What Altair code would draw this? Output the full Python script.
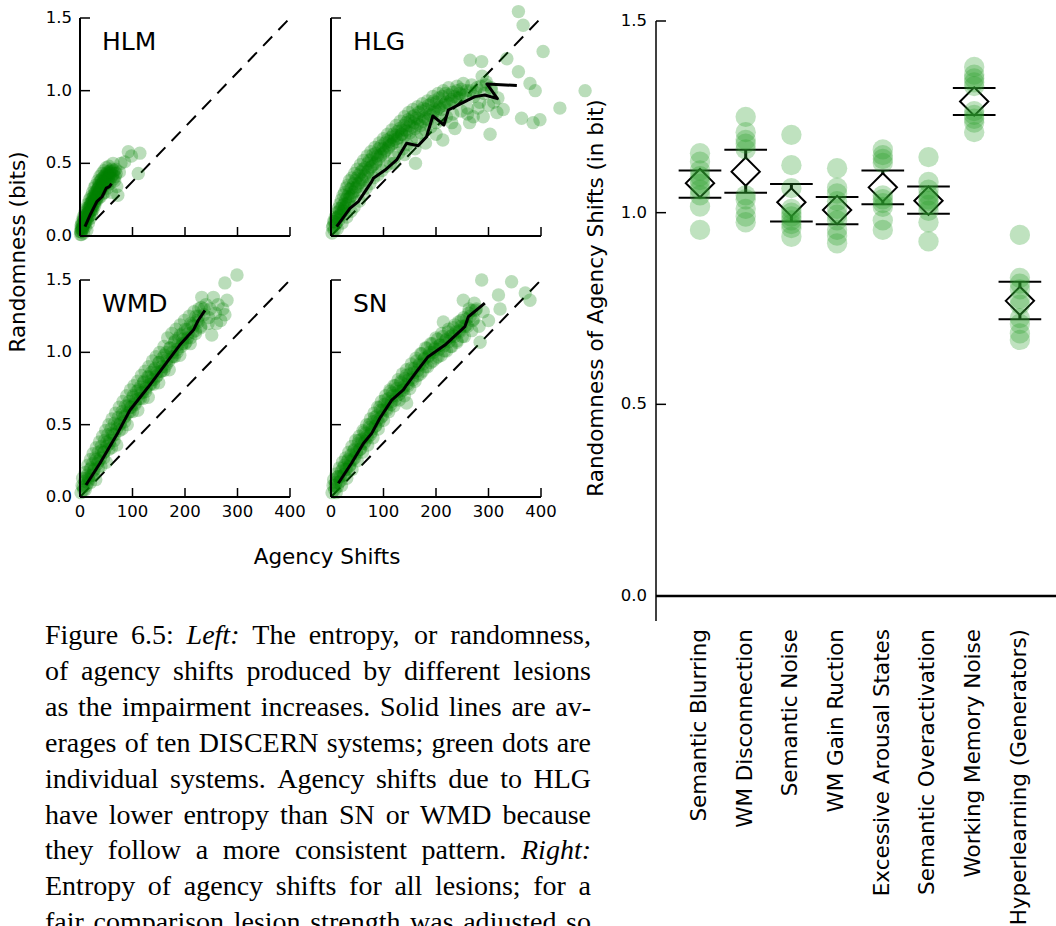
import altair as alt
import pandas as pd

FONT = "DejaVu Sans"
SERIF = "Liberation Serif"
LEFT_GREEN = "#008000"
RIGHT_GREEN = "#2ca02c"

# ---------------- data: left panels ----------------
x_ticks = [0, 100, 200, 300, 400]
x_tick_labels = ["0", "100", "200", "300", "400"]
y_ticks = [0.0, 0.5, 1.0, 1.5]
y_tick_labels = ["0.0", "0.5", "1.0", "1.5"]
diag_x = [0, 400]
diag_y = [0.0, 1.5]

hlm_pts = [(1,0.03),(2,0.07),(3,0.01),(4,0.1),(5,0.05),(6,0.13),(7,0.02),(8,0.09),(9,0.16),(10,0.06),
           (11,0.12),(12,0.19),(13,0.04),(14,0.15),(15,0.22),(16,0.09),(17,0.18),(18,0.25),(19,0.12),(20,0.21),
           (21,0.27),(22,0.15),(23,0.24),(24,0.3),(25,0.18),(26,0.27),(27,0.33),(28,0.21),(29,0.3),(30,0.35),
           (31,0.24),(33,0.32),(34,0.38),(35,0.26),(37,0.34),(38,0.41),(39,0.27),(41,0.36),(42,0.43),(43,0.29),
           (45,0.38),(46,0.45),(47,0.3),(49,0.4),(50,0.47),(52,0.33),(53,0.42),(55,0.48),(57,0.36),(58,0.45),
           (60,0.3),(62,0.42),(63,0.5),(66,0.38),(68,0.46),(70,0.34),(72,0.28),(75,0.44),(78,0.5),(85,0.51),
           (92,0.58),(98,0.55),(111,0.43),(114,0.57)]
hlm_core = [(2,0.05),(3,0.08),(4,0.04),(6,0.09),(7,0.12),(8,0.07),(9,0.13),(11,0.1),(12,0.15),(13,0.18),
            (14,0.11),(16,0.16),(17,0.2),(18,0.14),(19,0.22),(21,0.18),(22,0.23),(23,0.2),(24,0.26),(26,0.22),
            (27,0.25),(28,0.29),(29,0.24),(31,0.28),(32,0.3),(33,0.27),(35,0.33),(36,0.3),(37,0.37),(39,0.32),
            (40,0.35),(41,0.39),(43,0.34),(44,0.4),(46,0.36),(48,0.42),(50,0.38),(51,0.43),(53,0.37),(55,0.41),
            (56,0.44),(59,0.4),(61,0.46),(64,0.43),(67,0.41),
            (1,0.01),(2,0.03),(3,0.05),(5,0.07),(6,0.06),(8,0.11),(10,0.09),(11,0.14),(13,0.12),(15,0.16),
            (16,0.13),(18,0.19),(20,0.17),(21,0.21),(23,0.18),(25,0.24),(27,0.22),(28,0.26),(30,0.28),(32,0.26),
            (34,0.32),(36,0.35),(38,0.31),(40,0.38),(42,0.33),(44,0.37),(47,0.41),(49,0.36),(52,0.44),(54,0.39),
            (57,0.43),(60,0.44),(63,0.39),(65,0.45),(69,0.43)]
hlm_line_x = [9.5, 20, 32, 42, 50, 56, 60]
hlm_line_y = [0.064, 0.15, 0.236, 0.27, 0.33, 0.34, 0.36]

hlg_pts = [(2,0.02),(3,0.06),(5,0.1),(6,0.04),(8,0.13),(9,0.08),(11,0.16),(12,0.05),(14,0.19),(15,0.11),
           (17,0.22),(18,0.14),(20,0.25),(21,0.09),(23,0.28),(24,0.17),(26,0.3),(27,0.2),(29,0.33),(30,0.13),
           (32,0.35),(33,0.23),(35,0.38),(37,0.27),(38,0.17),(40,0.4),(42,0.3),(44,0.2),(45,0.43),(47,0.33),
           (50,0.46),(52,0.36),(54,0.24),(56,0.49),(58,0.39),(60,0.29),(62,0.52),(64,0.42),(67,0.33),(69,0.55),
           (71,0.45),(74,0.36),(76,0.58),(78,0.48),(81,0.4),(84,0.61),(86,0.51),(89,0.42),(92,0.64),(94,0.55),
           (97,0.45),(100,0.67),(102,0.58),(105,0.48),(108,0.7),(110,0.61),(113,0.5),(116,0.73),(118,0.64),(121,0.54),
           (124,0.76),(126,0.67),(129,0.57),(132,0.79),(134,0.7),(137,0.6),(140,0.82),(142,0.73),(145,0.63),(148,0.85),
           (150,0.76),(153,0.66),(156,0.87),(158,0.78),(161,0.5),(163,0.68),(165,0.89),(168,0.8),(171,0.71),(174,0.91),
           (177,0.82),(180,0.73),(184,0.93),(187,0.84),(190,0.75),(194,0.96),(197,0.87),(200,0.78),(204,0.98),(207,0.89),
           (210,0.8),(214,1.0),(217,0.91),(220,0.82),(213,0.66),(224,1.02),(228,0.93),(232,0.84),(236,0.74),(240,1.03),
           (244,0.95),(248,0.86),(252,1.05),(256,0.97),(260,0.88),(264,0.78),(265,1.21),(268,1.04),(272,0.96),(271,0.82),
           (278,1.02),(283,0.92),(287,1.2),(288,1.1),(292,0.98),(296,1.06),(300,0.9),(303,0.7),(306,1.0),(316,0.85),
           (328,0.87),(318,0.95),(335,1.22),(357,1.13),(357,1.544),(366,1.45),(363,0.81),(379,1.05),(389,1.0),(385,0.78),
           (398,0.8),(404,1.27),(436,0.88),(484,1.0)]
hlg_core = [(4,0.07),(7,0.1),(10,0.12),(13,0.13),(16,0.17),(19,0.19),(22,0.21),(25,0.22),(28,0.25),(31,0.27),
            (34,0.29),(36,0.32),(39,0.33),(43,0.36),(46,0.38),(49,0.4),(53,0.42),(57,0.44),(61,0.46),(65,0.47),
            (70,0.5),(73,0.52),(77,0.53),(80,0.56),(85,0.57),(88,0.55),(91,0.6),(95,0.62),(99,0.6),(103,0.64),
            (107,0.66),(111,0.65),(115,0.68),(119,0.7),(123,0.69),(127,0.72),(131,0.74),(135,0.73),(139,0.76),(143,0.78),
            (147,0.8),(151,0.79),(155,0.82),(159,0.83),(163,0.81),(167,0.85),(172,0.86),(176,0.88),(181,0.87),(186,0.9),
            (191,0.91),(196,0.93),(201,0.92),(206,0.95),(212,0.96),(218,0.98),(225,0.97),(232,0.99),(240,1.0),(248,1.01),
            (10,0.09),(15,0.14),(20,0.16),(25,0.19),(30,0.22),(35,0.26),(40,0.28),(45,0.31),(50,0.34),(55,0.37),
            (60,0.38),(65,0.41),(70,0.44),(75,0.47),(80,0.49),(85,0.5),(90,0.53),(95,0.56),(100,0.57),(105,0.59),
            (110,0.62),(115,0.63),(120,0.66),(125,0.65),(130,0.68),(135,0.7),(140,0.69),(145,0.72),(150,0.71),(155,0.75),
            (160,0.74),(165,0.77),(170,0.76),(175,0.79),(180,0.81),(185,0.8),(190,0.83),(195,0.85),(200,0.86),(205,0.88),
            (210,0.87),(215,0.9),(220,0.92),(225,0.91),(230,0.94),(235,0.96),(240,0.95),(245,0.98),(250,0.97),(258,1.0),
            (265,1.0),(275,0.99),(285,1.03),(295,1.04),(305,1.02),
            (120,0.5),(140,0.56),(160,0.6),(180,0.64),(200,0.7),(230,0.78),(260,0.84),(280,0.88),(290,0.82),(310,0.92)]
hlg_line_x = [10.8, 36, 52, 77.5, 80.6, 103, 125, 144, 166, 182, 194, 215, 223.5, 255, 274, 293, 317, 297, 354]
hlg_line_y = [0.064, 0.19, 0.236, 0.374, 0.397, 0.454, 0.523, 0.638, 0.621, 0.683, 0.826, 0.764, 0.867, 0.925,
              0.959, 0.97, 0.945, 1.046, 1.035]

wmd_pts = [(2,0.03),(4,0.08),(5,0.13),(7,0.05),(9,0.11),(10,0.17),(12,0.08),(14,0.15),(15,0.22),(17,0.12),
           (19,0.19),(20,0.26),(22,0.15),(24,0.23),(25,0.3),(27,0.19),(29,0.27),(31,0.34),(33,0.23),(35,0.31),
           (37,0.38),(39,0.27),(41,0.35),(43,0.42),(45,0.31),(47,0.39),(49,0.46),(51,0.35),(53,0.43),(55,0.5),
           (57,0.39),(59,0.47),(61,0.54),(63,0.43),(66,0.51),(68,0.58),(70,0.47),(73,0.55),(75,0.62),(77,0.51),
           (80,0.59),(82,0.66),(84,0.55),(87,0.63),(89,0.7),(91,0.58),(94,0.66),(96,0.74),(98,0.62),(101,0.7),
           (103,0.77),(105,0.65),(108,0.73),(110,0.8),(112,0.68),(115,0.76),(117,0.84),(119,0.72),(122,0.8),(124,0.87),
           (126,0.75),(129,0.83),(131,0.9),(133,0.78),(136,0.86),(138,0.94),(140,0.81),(143,0.89),(145,0.97),(147,0.84),
           (150,0.93),(152,1.0),(154,0.87),(157,0.96),(160,1.04),(162,0.9),(165,1.0),(167,1.1),(169,0.94),(172,1.03),
           (175,1.13),(177,0.97),(180,1.07),(183,1.16),(185,1.0),(188,1.1),(191,1.19),(193,1.04),(196,1.13),(199,1.22),
           (202,1.07),(205,1.16),(208,1.25),(211,1.1),(214,1.19),(217,1.28),(220,1.13),(223,1.22),(226,1.3),(230,1.17),
           (232,1.38),(236,1.26),(240,1.33),(244,1.2),(248,1.3),(251,1.12),(254,1.38),(258,1.27),(263,1.33),(268,1.22),
           (272,1.3),(276,1.48),(276,1.26),(280,1.36),(299,1.534)]
wmd_core = [(6,0.07),(11,0.13),(16,0.13),(21,0.2),(26,0.18),(31,0.26),(36,0.25),(41,0.32),(46,0.31),(51,0.38),
            (56,0.37),(61,0.44),(66,0.43),(71,0.5),(76,0.5),(81,0.57),(86,0.56),(91,0.63),(96,0.62),(101,0.69),
            (106,0.67),(111,0.74),(116,0.72),(121,0.79),(126,0.76),(131,0.83),(136,0.81),(141,0.88),(146,0.86),(151,0.93),
            (156,0.9),(161,0.98),(166,0.95),(171,1.03),(176,1.0),(181,1.08),(186,1.05),(191,1.12),(196,1.09),(201,1.16),
            (206,1.13),(211,1.2),(216,1.18),(221,1.25),(226,1.25),(231,1.31),(236,1.3),
            (10,0.05),(20,0.1),(30,0.12),(40,0.215),(50,0.24),(60,0.34),(70,0.36),(80,0.47),(90,0.5),(100,0.59),
            (110,0.6),(120,0.68),(130,0.69),(140,0.78),(150,0.79),(160,0.875),(170,0.88),(180,0.97),(190,0.98),(200,1.06),
            (210,1.06),(220,1.15),(230,1.18),(245,1.24),(260,1.2),
            (15,0.1),(25,0.15),(35,0.2),(45,0.27),(55,0.33),(65,0.39),(75,0.46),(85,0.52),(95,0.59),(105,0.64),
            (115,0.68),(125,0.73),(135,0.78),(145,0.83),(155,0.87),(165,0.92),(175,0.97),(185,1.02),(195,1.06),(205,1.1),
            (215,1.14),(225,1.21)]
wmd_line_x = [11.4, 38, 73, 95, 130, 171, 190, 216, 225, 238]
wmd_line_y = [0.083, 0.233, 0.45, 0.6, 0.76, 0.958, 1.05, 1.154, 1.22, 1.29]

sn_pts = [(2,0.03),(4,0.08),(5,0.12),(7,0.05),(9,0.1),(10,0.16),(12,0.07),(14,0.14),(16,0.2),(18,0.11),
          (20,0.18),(22,0.24),(24,0.15),(26,0.22),(28,0.27),(30,0.19),(32,0.25),(34,0.31),(36,0.22),(38,0.29),
          (40,0.35),(42,0.26),(45,0.33),(47,0.39),(49,0.3),(52,0.37),(54,0.42),(56,0.33),(59,0.4),(61,0.46),
          (63,0.37),(66,0.44),(68,0.5),(70,0.41),(73,0.48),(75,0.54),(77,0.45),(80,0.52),(82,0.58),(84,0.49),
          (87,0.56),(89,0.62),(91,0.52),(94,0.6),(96,0.66),(98,0.56),(101,0.64),(104,0.7),(106,0.6),(109,0.68),
          (112,0.74),(114,0.64),(117,0.72),(120,0.77),(122,0.67),(125,0.75),(128,0.81),(130,0.71),(133,0.79),(136,0.85),
          (138,0.74),(141,0.82),(144,0.65),(144,0.88),(147,0.77),(150,0.85),(153,0.92),(156,0.81),(159,0.89),(162,0.96),
          (165,0.84),(168,0.92),(171,0.99),(174,0.87),(177,0.95),(180,1.03),(184,0.9),(187,0.98),(190,1.06),(194,0.94),
          (197,1.02),(200,1.1),(204,0.97),(207,1.05),(211,1.13),(214,1.21),(216,1.01),(220,1.09),(224,1.16),(228,1.04),
          (232,1.12),(236,1.19),(240,1.07),(244,1.15),(248,1.22),(252,1.36),(254,1.11),(258,1.19),(262,1.27),(268,1.15),
          (272,1.23),(277,1.3),(282,1.18),(284,1.07),(287,1.5),(290,1.28),(300,1.22),(319,1.396),(322,1.3),(344,1.488),
          (370,1.41),(379,1.36)]
sn_core = [(8,0.08),(13,0.14),(18,0.14),(23,0.2),(28,0.19),(33,0.26),(38,0.25),(43,0.32),(48,0.31),(53,0.39),
           (58,0.37),(63,0.45),(68,0.42),(73,0.5),(78,0.47),(83,0.55),(88,0.53),(93,0.62),(98,0.6),(103,0.67),
           (108,0.65),(113,0.73),(118,0.7),(123,0.77),(128,0.73),(133,0.8),(138,0.76),(143,0.84),(148,0.81),(153,0.89),
           (158,0.86),(163,0.94),(168,0.91),(173,0.99),(178,0.96),(183,1.03),(188,1.0),(193,1.06),(198,1.03),(203,1.09),
           (208,1.05),(213,1.11),(218,1.08),(223,1.14),(228,1.11),(233,1.17),(238,1.14),(243,1.21),(248,1.18),(253,1.24),
           (258,1.23),(263,1.3),(268,1.29),(273,1.34),
           (10,0.03),(20,0.08),(30,0.13),(40,0.19),(50,0.25),(60,0.31),(70,0.36),(80,0.41),(90,0.47),(100,0.53),
           (110,0.59),(120,0.63),(130,0.67),(140,0.7),(150,0.75),(160,0.8),(170,0.85),(180,0.9),(190,0.93),(200,0.96),
           (210,0.98),(220,1.01),(230,1.04),(240,1.08),(250,1.11),(260,1.18),(270,1.22),
           (15,0.1),(25,0.155),(35,0.21),(45,0.27),(55,0.33),(65,0.385),(75,0.43),(85,0.49),(95,0.55),(105,0.61),
           (115,0.66),(125,0.7),(135,0.734),(145,0.78),(155,0.825),(165,0.875),(175,0.92),(185,0.97),(195,1.0),(205,1.02),
           (215,1.045),(225,1.075),(235,1.11),(245,1.14),(255,1.18),(265,1.25),(275,1.29)]
sn_line_x = [14, 39, 61.6, 77.5, 93, 115.6, 137.7, 144, 163, 185, 217, 255, 261.6, 293]
sn_line_y = [0.095, 0.233, 0.37, 0.44, 0.544, 0.67, 0.74, 0.774, 0.866, 0.97, 1.05, 1.177, 1.246, 1.34]

# ---------------- data: right panel ----------------
lesions = ["Semantic Blurring", "WM Disconnection", "Semantic Noise", "WM Gain Ruction",
           "Excessive Arousal States", "Semantic Overactivation", "Working Memory Noise",
           "Hyperlearning (Generators)"]
lesion_vals = [
    [1.155, 1.133, 1.11, 1.095, 1.085, 1.075, 1.06, 1.045, 1.016, 0.955],
    [1.25, 1.21, 1.19, 1.18, 1.165, 1.045, 1.035, 1.01, 0.99, 0.975],
    [1.203, 1.124, 1.064, 1.01, 1.0, 0.99, 0.98, 0.97, 0.96, 0.937],
    [1.116, 1.065, 1.05, 1.03, 1.01, 0.995, 0.98, 0.955, 0.94, 0.92],
    [1.165, 1.15, 1.14, 1.13, 1.045, 1.035, 1.025, 1.015, 0.98, 0.955],
    [1.145, 1.08, 1.06, 1.045, 1.035, 1.03, 1.02, 1.005, 0.975, 0.925],
    [1.38, 1.36, 1.35, 1.34, 1.33, 1.265, 1.255, 1.245, 1.235, 1.21],
    [0.942, 0.83, 0.815, 0.8, 0.775, 0.76, 0.725, 0.71, 0.685, 0.668],
]
lesion_mean = [1.077, 1.107, 1.027, 1.007, 1.066, 1.031, 1.290, 0.770]
lesion_lo = [1.039, 1.052, 0.977, 0.970, 1.022, 0.997, 1.255, 0.722]
lesion_hi = [1.110, 1.164, 1.075, 1.041, 1.110, 1.068, 1.325, 0.820]
right_ticks = [0.0, 0.5, 1.0, 1.5]
right_tick_labels = ["0.0", "0.5", "1.0", "1.5"]
right_ymin = -0.0652

# ---------------- caption text ----------------
caption_lines = [
    "Figure 6.5: *Left:* The entropy, or randomness,",
    "of agency shifts produced by different lesions",
    "as the impairment increases. Solid lines are av-",
    "erages of ten DISCERN systems; green dots are",
    "individual systems. Agency shifts due to HLG",
    "have lower entropy than SN or WMD because",
    "they follow a more consistent pattern. *Right:*",
    "Entropy of agency shifts for all lesions; for a",
    "fair comparison lesion strength was adjusted so",
]

# Times metrics (1/1000 em), used only to justify the caption lines
ROMAN = {' ': 250, '.': 250, ',': 250, ':': 278, ';': 278, '-': 333, '(': 333, ')': 333}
ROMAN.update({c: 500 for c in "0123456789"})
ROMAN.update(dict(zip("abcdefghijklmnopqrstuvwxyz",
                      [444, 500, 444, 500, 444, 333, 500, 500, 278, 278, 500, 278, 778, 500, 500, 500, 500,
                       333, 389, 278, 500, 500, 722, 500, 500, 444])))
ROMAN.update(dict(zip("ABCDEFGHIJKLMNOPQRSTUVWXYZ",
                      [722, 667, 667, 722, 611, 556, 722, 722, 333, 389, 722, 611, 889, 722, 722, 556, 722,
                       667, 556, 611, 722, 722, 944, 722, 722, 611])))
ITALIC = {'L': 556, 'e': 444, 'f': 278, 't': 278, ':': 333, 'R': 611, 'i': 278, 'g': 500, 'h': 500}

CAP_SIZE = 28
CAP_L, CAP_R = 45, 591
CAP_BASE, CAP_STEP = 644, 35.9


def word_width(word, italic):
    table = ITALIC if italic else ROMAN
    return sum(table.get(c, 500) for c in word) * CAP_SIZE / 1000.0


rows = []
for k, line in enumerate(caption_lines):
    toks = [(w.strip('*'), w.startswith('*')) for w in line.split(' ')]
    widths = [word_width(t, it) for t, it in toks]
    gap = (CAP_R - CAP_L - sum(widths)) / (len(toks) - 1)
    xpos = CAP_L
    for (t, it), w in zip(toks, widths):
        rows.append({'w': t, 'it': it, 'x': xpos, 'y': CAP_BASE + k * CAP_STEP})
        xpos += w + gap
cap_df = pd.DataFrame(rows)

TICK_FS = 16.5
TITLE_FS = 21.5


def txt(**kw):
    base = dict(font=FONT, color='black')
    base.update(kw)
    return base


# ---------------- left panels ----------------
def panel_layers(name, pts, lx, ly, xr, yr, xlabels, ylabels):
    xs = alt.Scale(domain=[0, 400], range=xr, nice=False, zero=False)
    ys = alt.Scale(domain=[0, 1.5], range=yr, nice=False, zero=False)
    X = lambda f: alt.X(f, scale=xs, axis=None)
    Y = lambda f: alt.Y(f, scale=ys, axis=None)
    frame = pd.DataFrame({'x0': [0], 'x1': [400], 'y0': [0.0], 'y1': [1.5], 't': [name]})
    xt_df = pd.DataFrame({'v': x_ticks, 'l': x_tick_labels, 'z': [0.0] * len(x_ticks)})
    yt_df = pd.DataFrame({'v': y_ticks, 'l': y_tick_labels, 'z': [0] * len(y_ticks)})

    layers = [
        alt.Chart(pd.DataFrame({'x': diag_x, 'y': diag_y})).mark_line(
            color='black', strokeWidth=2, strokeDash=[13, 9]).encode(x=X('x:Q'), y=Y('y:Q')),
        alt.Chart(pd.DataFrame(pts, columns=['x', 'y'])).mark_circle(
            size=180, color=LEFT_GREEN, opacity=0.27).encode(x=X('x:Q'), y=Y('y:Q')),
        alt.Chart(pd.DataFrame({'x': lx, 'y': ly, 'o': list(range(len(lx)))})).mark_line(
            color='black', strokeWidth=3, strokeJoin='round').encode(x=X('x:Q'), y=Y('y:Q'), order='o:Q'),
        alt.Chart(frame).mark_rule(color='black', strokeWidth=2).encode(x=X('x0:Q'), y=Y('y0:Q'), y2='y1:Q'),
        alt.Chart(frame).mark_rule(color='black', strokeWidth=2).encode(x=X('x0:Q'), x2='x1:Q', y=Y('y0:Q')),
        alt.Chart(xt_df).mark_rule(color='black', strokeWidth=1.5, y2Offset=-9).encode(
            x=X('v:Q'), y=Y('z:Q'), y2='z:Q'),
        alt.Chart(yt_df).mark_rule(color='black', strokeWidth=1.5, x2Offset=10).encode(
            x=X('z:Q'), x2='z:Q', y=Y('v:Q')),
        alt.Chart(frame).mark_text(**txt(fontSize=25, align='left', baseline='alphabetic', dx=22, dy=32)).encode(
            x=X('x0:Q'), y=Y('y1:Q'), text='t:N'),
    ]
    if xlabels:
        layers.append(alt.Chart(xt_df).mark_text(**txt(fontSize=TICK_FS, align='center', baseline='top', dy=7)).encode(
            x=X('v:Q'), y=Y('z:Q'), text='l:N'))
    if ylabels:
        layers.append(alt.Chart(yt_df).mark_text(**txt(fontSize=TICK_FS, align='right', baseline='middle', dx=-8)).encode(
            x=X('z:Q'), y=Y('v:Q'), text='l:N'))
    return layers


layers = []
layers += panel_layers("HLM", hlm_pts + hlm_core, hlm_line_x, hlm_line_y, [80, 290], [236, 18], False, True)
layers += panel_layers("HLG", hlg_pts + hlg_core, hlg_line_x, hlg_line_y, [331, 541], [236, 18], False, False)
layers += panel_layers("WMD", wmd_pts + wmd_core, wmd_line_x, wmd_line_y, [80, 290], [497, 280], True, True)
layers += panel_layers("SN", sn_pts + sn_core, sn_line_x, sn_line_y, [331, 541], [497, 280], True, False)

layers.append(alt.Chart(pd.DataFrame({'t': ['Randomness (bits)']})).mark_text(
    **txt(fontSize=TITLE_FS, angle=270, align='center', baseline='middle')).encode(
    text='t:N', x=alt.value(19), y=alt.value(252)))
layers.append(alt.Chart(pd.DataFrame({'t': ['Agency Shifts']})).mark_text(
    **txt(fontSize=TITLE_FS, align='center', baseline='alphabetic')).encode(
    text='t:N', x=alt.value(327), y=alt.value(564)))

# ---------------- right panel ----------------
rxs = alt.Scale(domain=[-0.9625, 7.79], range=[656, 1056], nice=False, zero=False)
rys = alt.Scale(domain=[right_ymin, 1.5], range=[621, 21], nice=False, zero=False)
RX = lambda f: alt.X(f, scale=rxs, axis=None)
RY = lambda f: alt.Y(f, scale=rys, axis=None)

rdots_df = pd.DataFrame([{'i': i, 'v': v} for i, vals in enumerate(lesion_vals) for v in vals])
err_df = pd.DataFrame({'i': list(range(len(lesions))), 'm': lesion_mean, 'lo': lesion_lo, 'hi': lesion_hi,
                       'name': lesions})
rt_df = pd.DataFrame({'v': right_ticks, 'l': right_tick_labels, 'x0': [-0.9625] * len(right_ticks)})
rframe = pd.DataFrame({'x0': [-0.9625], 'x1': [7.79], 'y0': [right_ymin], 'y1': [1.5], 'z': [0.0]})

layers += [
    alt.Chart(rframe).mark_rule(color='black', strokeWidth=2.5).encode(x=RX('x0:Q'), x2='x1:Q', y=RY('z:Q')),
    alt.Chart(rframe).mark_rule(color='black', strokeWidth=1.5).encode(x=RX('x0:Q'), y=RY('y0:Q'), y2='y1:Q'),
    alt.Chart(rt_df).mark_rule(color='black', strokeWidth=1.5, x2Offset=10).encode(
        x=RX('x0:Q'), x2='x0:Q', y=RY('v:Q')),
    alt.Chart(rt_df).mark_text(**txt(fontSize=TICK_FS, align='right', baseline='middle', dx=-9)).encode(
        x=RX('x0:Q'), y=RY('v:Q'), text='l:N'),
    alt.Chart(err_df).mark_rule(color='black', strokeWidth=3).encode(x=RX('i:Q'), y=RY('lo:Q'), y2='hi:Q'),
    alt.Chart(err_df).transform_calculate(xl='datum.i - 0.467', xr='datum.i + 0.467').mark_rule(
        color='black', strokeWidth=2).encode(x=RX('xl:Q'), x2='xr:Q', y=RY('lo:Q')),
    alt.Chart(err_df).transform_calculate(xl='datum.i - 0.467', xr='datum.i + 0.467').mark_rule(
        color='black', strokeWidth=2).encode(x=RX('xl:Q'), x2='xr:Q', y=RY('hi:Q')),
    alt.Chart(err_df).mark_point(shape='diamond', filled=True, fill='white', stroke='black', strokeWidth=2,
                                 size=800, opacity=1, fillOpacity=1).encode(x=RX('i:Q'), y=RY('m:Q')),
    alt.Chart(rdots_df).mark_circle(size=415, color=RIGHT_GREEN, opacity=0.3).encode(x=RX('i:Q'), y=RY('v:Q')),
    alt.Chart(err_df).mark_text(**txt(fontSize=TITLE_FS, angle=270, align='right', baseline='middle')).encode(
        x=RX('i:Q'), y=alt.value(629), text='name:N'),
    alt.Chart(pd.DataFrame({'t': ['Randomness of Agency Shifts (in bit)']})).mark_text(
        **txt(fontSize=TITLE_FS, angle=270, align='center', baseline='middle')).encode(
        text='t:N', x=alt.value(597), y=alt.value(298)),
]

# ---------------- caption ----------------
cap_base = alt.Chart(cap_df).encode(
    x=alt.X('x:Q', scale=None, axis=None), y=alt.Y('y:Q', scale=None, axis=None), text='w:N')
layers.append(cap_base.transform_filter('!datum.it').mark_text(
    align='left', baseline='alphabetic', font=SERIF, fontSize=CAP_SIZE, color='black'))
layers.append(cap_base.transform_filter('datum.it').mark_text(
    align='left', baseline='alphabetic', font=SERIF, fontSize=CAP_SIZE, fontStyle='italic', color='black'))

chart = alt.layer(*layers).resolve_scale(x='independent', y='independent').properties(
    width=1056, height=926, padding=0, autosize=alt.AutoSizeParams(type='none')
).configure_view(strokeWidth=0)

chart.save("out.html", embed_options={"renderer": "svg", "actions": False})
